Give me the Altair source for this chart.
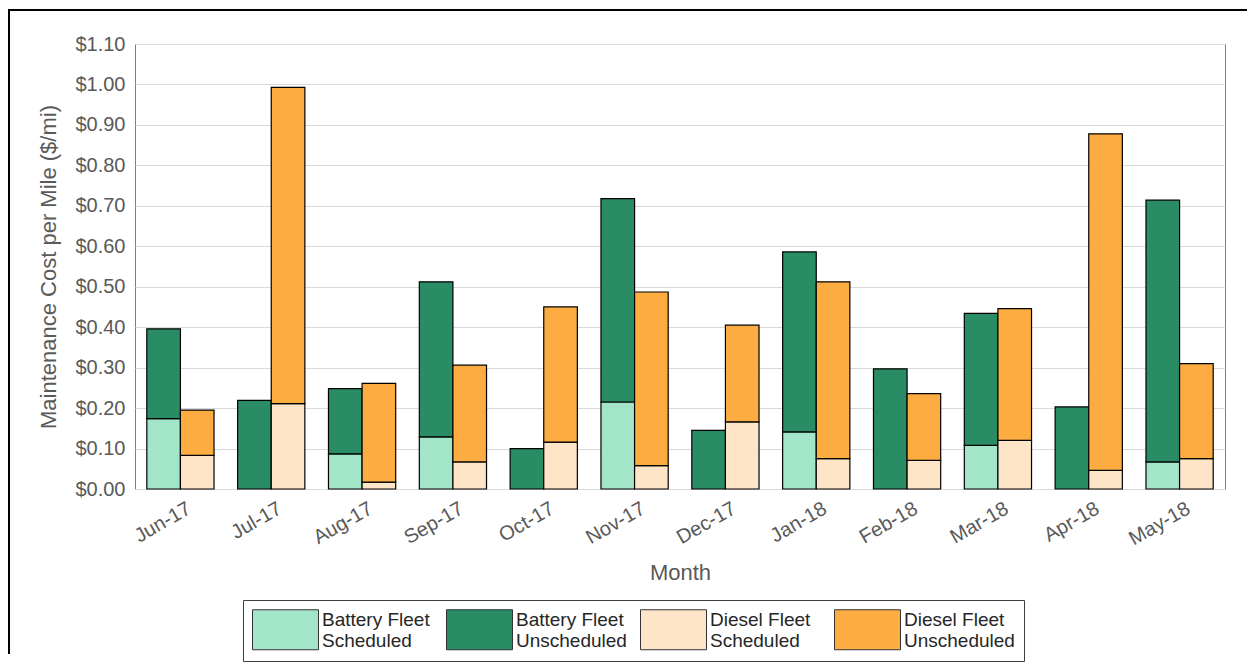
import altair as alt
import pandas as pd

months = ["Jun-17", "Jul-17", "Aug-17", "Sep-17", "Oct-17", "Nov-17",
          "Dec-17", "Jan-18", "Feb-18", "Mar-18", "Apr-18", "May-18"]
battery_scheduled = [0.174, 0.0, 0.087, 0.129, 0.0, 0.215, 0.0, 0.141, 0.0, 0.108, 0.0, 0.067]
battery_unscheduled = [0.222, 0.219, 0.161, 0.383, 0.100, 0.503, 0.145, 0.445, 0.297, 0.326, 0.203, 0.647]
diesel_scheduled = [0.083, 0.211, 0.017, 0.067, 0.116, 0.058, 0.166, 0.075, 0.071, 0.120, 0.046, 0.075]
diesel_unscheduled = [0.112, 0.782, 0.244, 0.239, 0.334, 0.429, 0.239, 0.437, 0.165, 0.326, 0.832, 0.235]

fleets = ["Battery Fleet", "Diesel Fleet"]
categories = ["Battery Fleet|Scheduled", "Battery Fleet|Unscheduled",
              "Diesel Fleet|Scheduled", "Diesel Fleet|Unscheduled"]
colors = ["#a2e5c8", "#298c64", "#ffe5c8", "#fdac42"]
y_ticks = [0.0, 0.1, 0.2, 0.3, 0.4, 0.5, 0.6, 0.7, 0.8, 0.9, 1.0, 1.1]

series = [
    ("Battery Fleet", "Battery Fleet|Scheduled", 0, battery_scheduled),
    ("Battery Fleet", "Battery Fleet|Unscheduled", 1, battery_unscheduled),
    ("Diesel Fleet", "Diesel Fleet|Scheduled", 0, diesel_scheduled),
    ("Diesel Fleet", "Diesel Fleet|Unscheduled", 1, diesel_unscheduled),
]
rows = []
for i, m in enumerate(months):
    for fleet, cat, order, vals in series:
        if vals[i] > 0:
            rows.append({"Month": m, "Fleet": fleet, "Category": cat,
                         "Order": order, "Cost": vals[i]})
df = pd.DataFrame(rows)

FONT = "Liberation Sans"
TXT = "#595959"

bars = alt.Chart(df).mark_bar(stroke="black", strokeWidth=1.2).encode(
    x=alt.X("Month:N", sort=months, title="Month",
            scale=alt.Scale(paddingInner=0.26, paddingOuter=0.13),
            axis=alt.Axis(labelAngle=330, labelFontSize=20, labelColor=TXT,
                          titleFontSize=22, titleColor=TXT, titleFontWeight="normal",
                          ticks=False, domain=False, labelPadding=9, titlePadding=14,
                          labelOffset=4)),
    xOffset=alt.XOffset("Fleet:N", sort=fleets,
                        scale=alt.Scale(paddingInner=0, paddingOuter=0)),
    y=alt.Y("Cost:Q", stack="zero", title="Maintenance Cost per Mile ($/mi)",
            scale=alt.Scale(domain=[0, 1.1], nice=False),
            axis=alt.Axis(values=y_ticks, format="$.2f", labelFontSize=20, labelColor=TXT,
                          titleFontSize=22, titleColor=TXT, titleFontWeight="normal",
                          ticks=False, domain=False, labelPadding=10, titlePadding=14,
                          grid=True, gridColor="#d9d9d9", gridWidth=1)),
    color=alt.Color("Category:N", scale=alt.Scale(domain=categories, range=colors),
                    legend=alt.Legend(
                        title=None, orient="none", legendX=108, legendY=556,
                        direction="horizontal", columns=4, gridAlign="all",
                        columnPadding=11, padding=9,
                        symbolType="M-1.65,-1L1.65,-1L1.65,1L-1.65,1Z",
                        symbolSize=1600, symbolOffset=13,
                        symbolStrokeColor="#333333", symbolStrokeWidth=1,
                        symbolOpacity=1,
                        labelExpr="split(datum.label, '|')",
                        labelBaseline="bottom",
                        labelFontSize=19, labelColor="#262626", labelOffset=16,
                        labelLimit=300,
                        strokeColor="#404040", fillColor="white")),
    order=alt.Order("Order:Q"),
)

one = alt.Data(values=[{"k": 1}])
frame_top = alt.Chart(one).mark_rule(color="black", strokeWidth=2).encode(
    x=alt.value(-126), x2=alt.value(1112), y=alt.value(-34))
frame_left = alt.Chart(one).mark_rule(color="black", strokeWidth=2).encode(
    x=alt.value(-126), y=alt.value(-35), y2=alt.value(610))

chart = alt.layer(bars, frame_top, frame_left).properties(
    width=1090, height=445, padding=0
).configure(font=FONT).configure_view(stroke="#7f7f7f", strokeWidth=1)

chart.save("out.html", embed_options={"renderer": "svg", "actions": False})
